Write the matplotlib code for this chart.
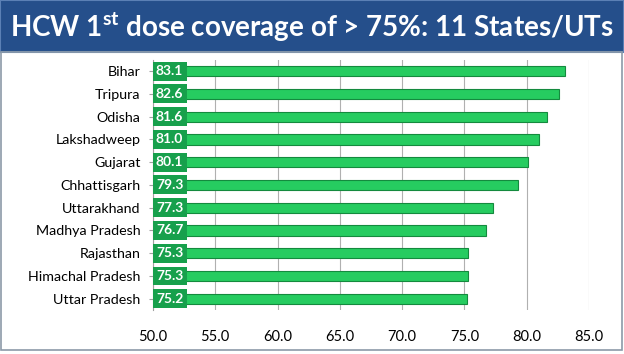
import matplotlib.pyplot as plt
from matplotlib.patches import Rectangle

states = ["Bihar", "Tripura", "Odisha", "Lakshadweep", "Gujarat", "Chhattisgarh",
          "Uttarakhand", "Madhya Pradesh", "Rajasthan", "Himachal Pradesh", "Uttar Pradesh"]
coverage = [83.1, 82.6, 81.6, 81.0, 80.1, 79.3, 77.3, 76.7, 75.3, 75.3, 75.2]
xticks = [50.0, 55.0, 60.0, 65.0, 70.0, 75.0, 80.0, 85.0]

plt.rcParams['font.family'] = ['Lato', 'DejaVu Sans']
plt.rcParams['mathtext.fontset'] = 'custom'
plt.rcParams['mathtext.rm'] = 'Lato:bold'

fig = plt.figure(figsize=(6.24, 3.54), dpi=100)

# title banner
fig.patches.append(Rectangle((0, 1 - 52 / 354), 1, 52 / 354, transform=fig.transFigure,
                             facecolor="#254f8b", edgecolor="#5b80b5", linewidth=1.5))
# chart frame
fig.patches.append(Rectangle((0.002, 0.01), 0.995, 1 - 52 / 354 - 0.01, transform=fig.transFigure,
                             facecolor="none", edgecolor="#8c9aa8", linewidth=1.2))
fig.text(0.5, 1 - 27 / 354, r"HCW 1$^{\mathrm{st}}$ dose coverage of > 75%: 11 States/UTs",
         color="white", fontsize=20, fontweight="bold", ha="center", va="center")

ax = fig.add_axes([0.245, 0.124, 0.699, 0.707])
y = list(range(len(states)))
ax.barh(y, [c - 50 for c in coverage], left=50, height=0.45, color="#26cc60",
        edgecolor="#148a3e", linewidth=0.8, zorder=3)
for yi, c in zip(y, coverage):
    ax.text(50.25, yi, f"{c:.1f}", color="white", fontsize=10, fontweight="bold",
            va="center", ha="left", zorder=4,
            bbox=dict(boxstyle="square,pad=0.25", facecolor="#17a04c", edgecolor="none"))

ax.set_xlim(50, 85)
ax.set_ylim(len(states) - 0.5, -0.5)
ax.set_xticks(xticks)
ax.set_xticklabels([f"{t:.1f}" for t in xticks], fontsize=10.5)
ax.set_yticks(y)
ax.set_yticklabels(states, fontsize=10.3)
ax.grid(axis="x", color="#b0b0b0", linewidth=0.8, zorder=0)
for s in ["top", "right", "bottom"]:
    ax.spines[s].set_visible(False)
ax.spines["left"].set_color("#a0a0a0")
ax.tick_params(axis="x", length=0, pad=14)
ax.tick_params(axis="y", length=3, color="#a0a0a0", pad=6)

plt.savefig("out.png")
